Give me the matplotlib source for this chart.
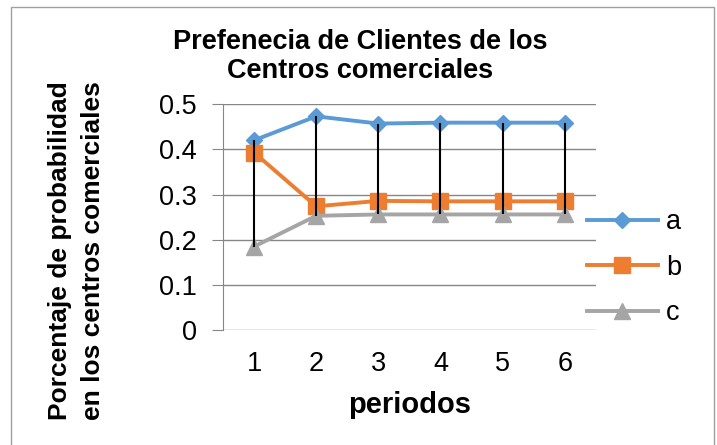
import matplotlib.pyplot as plt
import numpy as np
from matplotlib.patches import Rectangle

plt.rcParams['font.family'] = ['Liberation Sans', 'DejaVu Sans']

# datos
periodos = [1, 2, 3, 4, 5, 6]
serie_a = [0.420, 0.473, 0.457, 0.459, 0.459, 0.459]
serie_b = [0.393, 0.274, 0.286, 0.285, 0.285, 0.285]
serie_c = [0.185, 0.253, 0.256, 0.256, 0.256, 0.256]
nombres = ['a', 'b', 'c']
y_ticks = [0, 0.1, 0.2, 0.3, 0.4, 0.5]
y_tick_labels = ['0', '0.1', '0.2', '0.3', '0.4', '0.5']

fig = plt.figure(figsize=(7.17, 4.45), dpi=100)
ax = fig.add_axes([0.311, 0.258, 0.520, 0.508])

# borde del gráfico
fig.patches.append(Rectangle((11 / 717, -0.1), 703 / 717, 1.1 - 7 / 445,
                             transform=fig.transFigure, fill=False,
                             edgecolor='#a0a0a0', linewidth=1))

# líneas máximo-mínimo
todas = np.array([serie_a, serie_b, serie_c])
ax.vlines(periodos, todas.min(axis=0), todas.max(axis=0),
          color='black', linewidth=1.5, zorder=4)

ax.plot(periodos, serie_a, color='#5B9BD5', linewidth=2.8, marker='D',
        markersize=8.5, label=nombres[0], zorder=3)
ax.plot(periodos, serie_b, color='#ED7D31', linewidth=2.8, marker='s',
        markersize=12, label=nombres[1], zorder=3)
ax.plot(periodos, serie_c, color='#A5A5A5', linewidth=2.8, marker='^',
        markersize=12, label=nombres[2], zorder=3)

ax.set_xlim(0.5, 6.5)
ax.set_ylim(0, 0.5)
ax.set_yticks(y_ticks)
ax.set_yticklabels(y_tick_labels)
ax.set_xticks(periodos)
ax.tick_params(axis='y', labelsize=19.5, length=8, color='#868686', pad=11)
ax.tick_params(axis='x', labelsize=19.5, length=0, pad=15)
ax.grid(axis='y', color='#868686', linewidth=1)
ax.set_axisbelow(True)
for s in ['top', 'right', 'bottom']:
    ax.spines[s].set_visible(False)
ax.spines['left'].set_color('#868686')

ax.set_xlabel('periodos', fontsize=21, fontweight='bold', labelpad=10)
fig.text(0.107, 0.437, 'Porcentaje de probabilidad\nen los centros comerciales',
         rotation=90, fontsize=19, fontweight='bold', ha='center', va='center',
         linespacing=1.45)
fig.text(0.502, 0.872, 'Prefenecia de Clientes de los\nCentros comerciales',
         fontsize=19.5, fontweight='bold', ha='center', va='center',
         linespacing=1.15)

fig.legend(loc='center left', bbox_to_anchor=(0.819, 0.398), frameon=False,
           fontsize=19.5, handlelength=2.6, handletextpad=0.3, labelspacing=0.72,
           borderpad=0, borderaxespad=0)

fig.savefig('out.png', dpi=100)
